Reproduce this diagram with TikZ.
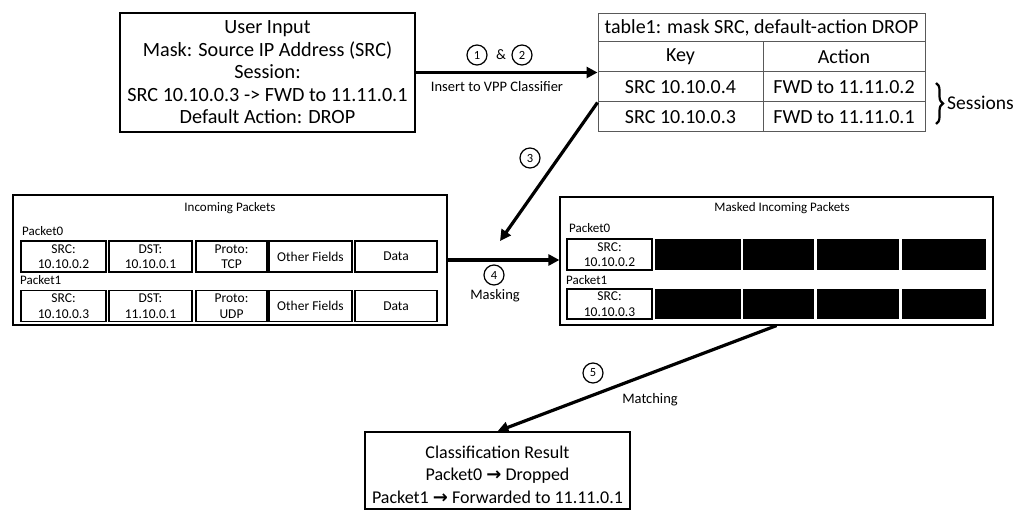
\documentclass[tikz,border=0pt]{standalone}
\usepackage{fontspec}
\setmainfont{Carlito}
\newfontfamily\symf{DejaVu Sans}
\usetikzlibrary{arrows.meta,decorations.pathreplacing}
\newcommand{\rarr}{{\symf\bfseries\fontsize{18}{18}\selectfont →}}
\begin{document}
\begin{tikzpicture}[x=1pt,y=-1pt,
  bigbox/.style={draw=black,line width=1.4,inner sep=0,minimum width=#1},
  tcell/.style={draw=black!65,line width=1,inner sep=0,minimum height=29,font=\fontsize{20}{22}\selectfont},
  pcell/.style={draw=black,line width=1.3,inner sep=0,minimum height=31,align=center,font=\fontsize{13.5}{15.5}\selectfont},
  bcell/.style={draw=none,fill=black,inner sep=0,minimum height=31},
  small/.style={font=\fontsize{13}{15}\selectfont,inner sep=0},
  lab/.style={font=\fontsize{14.5}{17}\selectfont,inner sep=0},
  num/.style={draw=black,circle,line width=1.2,minimum size=20,inner sep=0,font=\fontsize{12.5}{13}\selectfont},
  arr/.style={line width=3.2,-{Triangle[length=11,width=11]}}]
\useasboundingbox (0,0) rectangle (1019,510);

% User input
\node[bigbox=295,minimum height=119,align=center,font=\fontsize{20.2}{22.5}\selectfont] (ui) at (267.5,72.5)
 {User Input\\Mask: Source IP Address (SRC)\\Session:\\SRC 10.10.0.3 -> FWD to 11.11.0.1\\Default Action: DROP};

% Table
\node[tcell,minimum width=327,minimum height=28] (tt) at (761.5,28) {table1: mask SRC, default-action DROP};
\node[tcell,minimum width=165,minimum height=30] (tk) at (680.5,57) {Key};
\node[tcell,minimum width=162,minimum height=30] (ta) at (844,57) {Action};
\node[tcell,minimum width=165,minimum height=30] (r1k) at (680.5,87) {SRC 10.10.0.4};
\node[tcell,minimum width=162,minimum height=30] (r1a) at (844,87) {FWD to 11.11.0.2};
\node[tcell,minimum width=165,minimum height=30] (r2k) at (680.5,117) {SRC 10.10.0.3};
\node[tcell,minimum width=162,minimum height=30] (r2a) at (844,117) {FWD to 11.11.0.1};
\coordinate (bt) at (936,83);
\coordinate (bb) at (936,124);
\draw[decorate,decoration={brace,amplitude=7},line width=2.2] (bt) -- (bb);
\node[anchor=west,inner sep=0,font=\fontsize{19.5}{22}\selectfont] (sess) at (947,103) {Sessions};

% arrow 1&2
\draw[arr] (ui.east) -- (ui.east -| r1k.west);
\node[num] (n1) at (477,55) {1};
\node[lab] (amp) at (501,55) {\&};
\node[num] (n2) at (522,55) {2};
\node[lab] (ins) at (497,87) {Insert to VPP Classifier};

% Incoming packets
\node[bigbox=434,minimum height=130,line width=1.2] (inc) at (230,260) {};
\node[small] (inct) at (230,208) {Incoming Packets};
\node[small,anchor=west] (p0) at (22,231) {Packet0};
\node[small,anchor=west] (p1) at (20,280) {Packet1};
\node[pcell,minimum width=85] (a1) at (63.5,256.5) {SRC:\\10.10.0.2};
\node[pcell,minimum width=83] (a2) at (150.5,256.5) {DST:\\10.10.0.1};
\node[pcell,minimum width=71] (a3) at (231.5,256.5) {Proto:\\TCP};
\node[pcell,minimum width=83] (a4) at (310.5,256.5) {Other Fields};
\node[pcell,minimum width=82] (a5) at (396,256.5) {Data};
\node[pcell,minimum width=85] (b1) at (63.5,306) {SRC:\\10.10.0.3};
\node[pcell,minimum width=83] (b2) at (150.5,306) {DST:\\11.10.0.1};
\node[pcell,minimum width=71] (b3) at (231.5,306) {Proto:\\UDP};
\node[pcell,minimum width=83] (b4) at (310.5,306) {Other Fields};
\node[pcell,minimum width=82] (b5) at (396,306) {Data};

% Masked packets
\node[bigbox=433,minimum height=128,line width=1.2] (mk) at (776.5,261) {};
\node[small] (mkt) at (782,208) {Masked Incoming Packets};
\node[small,anchor=west] (q0) at (569,228) {Packet0};
\node[small,anchor=west] (q1) at (566,280) {Packet1};
\node[pcell,minimum width=85] (c1) at (609.5,254.5) {SRC:\\10.10.0.2};
\node[bcell,minimum width=86] (c2) at (698,254.5) {};
\node[bcell,minimum width=71] (c3) at (778.5,254.5) {};
\node[bcell,minimum width=82] (c4) at (858,254.5) {};
\node[bcell,minimum width=84] (c5) at (944,254.5) {};
\node[pcell,minimum width=85,minimum height=30] (d1) at (609.5,304) {SRC:\\10.10.0.3};
\node[bcell,minimum width=86,minimum height=30] (d2) at (698,304) {};
\node[bcell,minimum width=71,minimum height=30] (d3) at (778.5,304) {};
\node[bcell,minimum width=82,minimum height=30] (d4) at (858,304) {};
\node[bcell,minimum width=84,minimum height=30] (d5) at (944,304) {};

% arrow 3
\coordinate (m3) at (500,241);
\draw[arr] (r1k.south west) -- (m3);
\node[num] (n3) at (530,158) {3};

% arrow 4
\draw[arr] (inc.east) -- (inc.east -| mk.west);
\node[num] (n4) at (494,275) {4};
\node[lab] (msk) at (495,296) {Masking};

% Classification result
\node[bigbox=265,minimum height=77] (cr) at (497.5,470.5) {};
\node[align=center,inner sep=0,font=\fontsize{18}{22.5}\selectfont] (crt) at (497.5,474.5)
 {Classification Result\\Packet0 \rarr{} Dropped\\Packet1 \rarr{} Forwarded to 11.11.0.1};

% arrow 5
\draw[arr] (mk.south) -- (cr.north);
\node[num] (n5) at (593,373) {5};
\node[lab] (mat) at (650,400) {Matching};
\end{tikzpicture}
\end{document}
